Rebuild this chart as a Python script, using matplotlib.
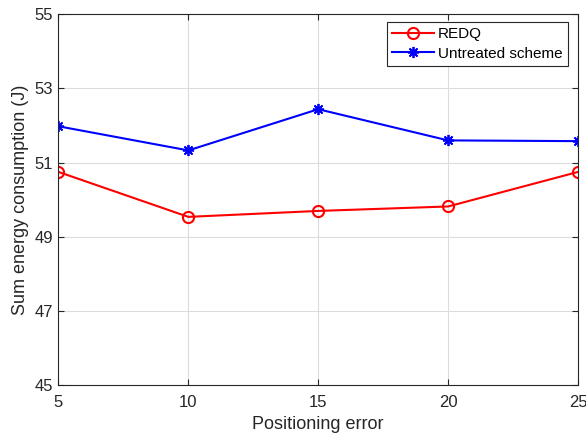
import numpy as np
import matplotlib
matplotlib.use("Agg")
import matplotlib.pyplot as plt

plt.rcParams['font.family'] = ['Liberation Sans', 'DejaVu Sans']

pos_err = [5, 10, 15, 20, 25]
redq = [50.75, 49.54, 49.70, 49.82, 50.75]
untreated = [51.98, 51.33, 52.44, 51.60, 51.58]
yticks = [45, 47, 49, 51, 53, 55]

fig = plt.figure(figsize=(5.86, 4.43), dpi=100)
ax = fig.add_axes([0.0998, 0.130, 0.8865, 0.838])

ax.plot(pos_err, redq, 'r-o', lw=1.5, ms=8, mfc='none', mew=1.5, label='REDQ')
ax.plot(pos_err, untreated, 'b-', marker=(8, 2, 0), lw=1.5, ms=8, mew=1.3,
        label='Untreated scheme')

ax.set_xlim(5, 25)
ax.set_ylim(45, 55)
ax.set_xticks(pos_err)
ax.set_yticks(yticks)
ax.grid(True, color='#dcdcdc', lw=0.8)
ax.set_axisbelow(True)
ax.tick_params(direction='in', labelsize=12, colors='#262626', length=4, top=True, right=True,
               labeltop=False, labelright=False)
ax.tick_params(axis='x', pad=7)
ax.tick_params(axis='y', pad=4)
for s in ax.spines.values():
    s.set_color('#262626')
    s.set_linewidth(0.8)

ax.set_xlabel('Positioning error', fontsize=13, color='#262626', labelpad=4)
ax.set_ylabel('Sum energy consumption (J)', fontsize=13, color='#262626', labelpad=4)

leg = ax.legend(loc='upper right', fontsize=11, fancybox=False, framealpha=1,
                edgecolor='#262626', handlelength=2.7, borderpad=0.35,
                labelspacing=0.35, handletextpad=0.3, borderaxespad=0,
                bbox_to_anchor=(0.981, 0.979))
leg.get_frame().set_linewidth(0.8)

fig.savefig('out.png', dpi=100)
